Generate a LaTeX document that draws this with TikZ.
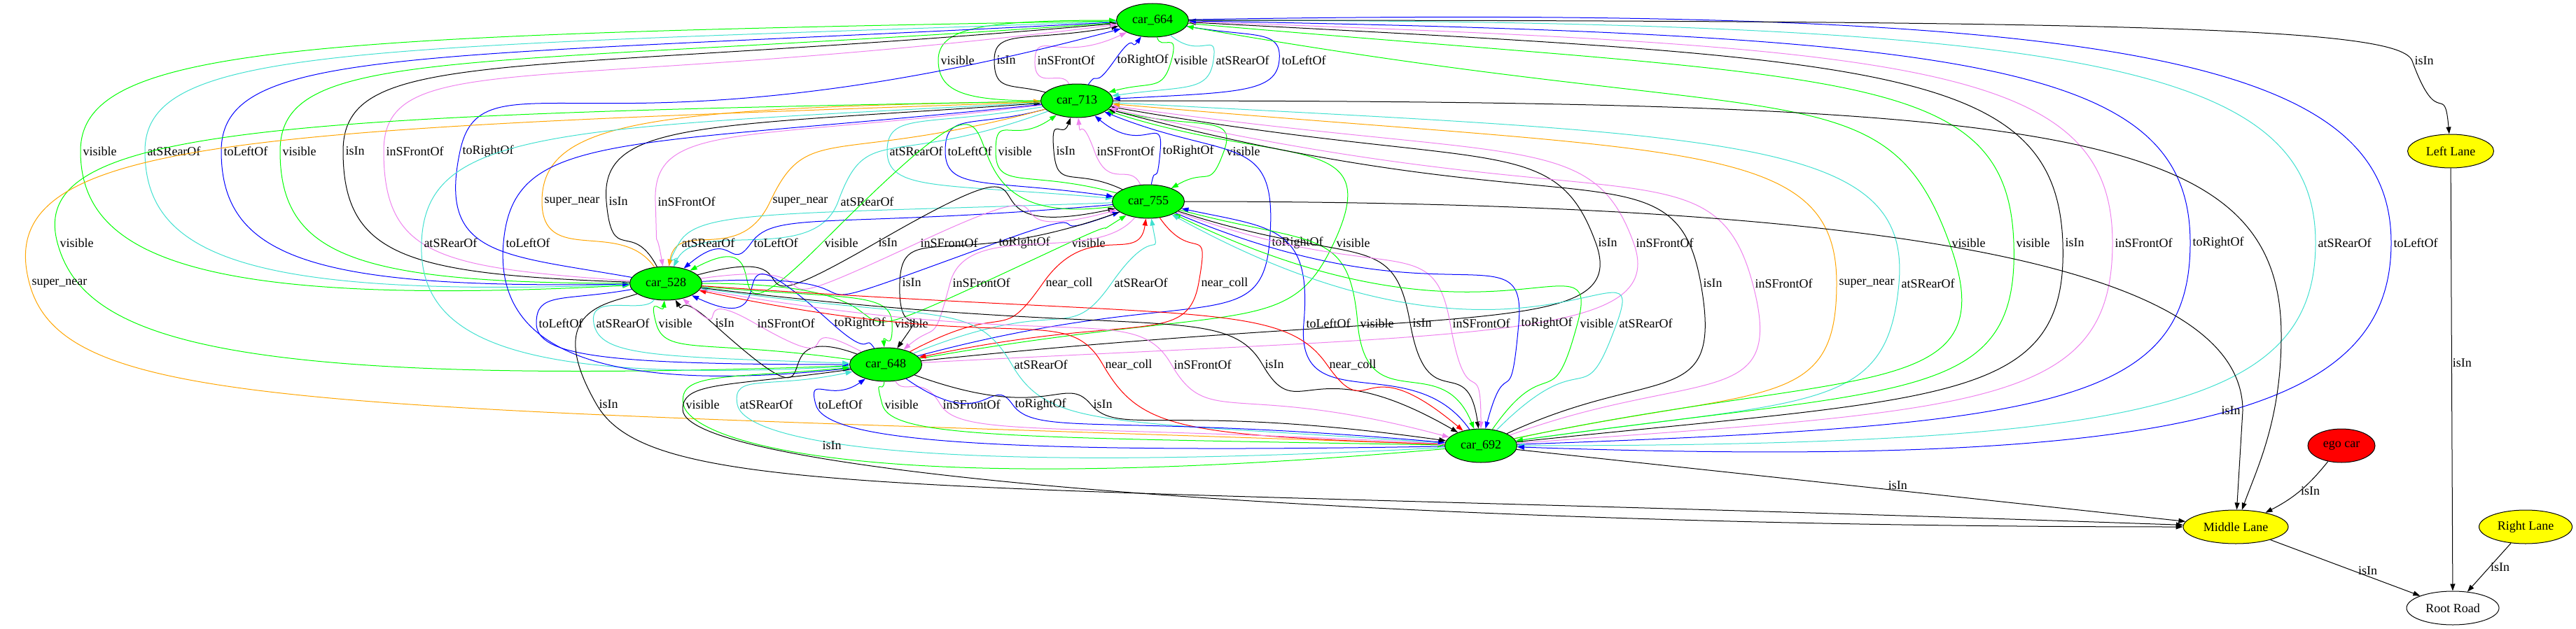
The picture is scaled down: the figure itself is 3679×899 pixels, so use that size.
\documentclass[tikz,border=0pt]{standalone}
\usepackage{fontspec}
\setmainfont{Liberation Serif}
\usetikzlibrary{arrows.meta,shapes.geometric}

\definecolor{vgreen}{HTML}{00FF00}
\definecolor{vcyan}{HTML}{40E0D0}
\definecolor{vviolet}{HTML}{EE82EE}
\definecolor{vorange}{HTML}{FFA500}
\definecolor{vyellow}{HTML}{FFFF00}
\definecolor{vred}{HTML}{FF0000}

\newcommand{\lblfont}{\fontsize{18}{20}\selectfont}
% control distance at one end of a curve piece (angle, dx, dy)
\newcommand{\cdist}[4]{%
  \pgfmathsetmacro{\cdc}{abs(cos(#2))}%
  \pgfmathsetmacro{\cds}{abs(sin(#2))}%
  \pgfmathsetmacro{#1}{max(15,0.8*((\cds>\cdc)*abs(#4)/max(\cds,0.5)+(1-(\cds>\cdc))*abs(#3)/max(\cdc,0.5)))}}

\begin{document}
\begin{tikzpicture}[
  x=1pt,y=1pt,font=\lblfont,line width=1pt,
  >={Triangle[length=10pt,width=7pt]},
  car/.style={ellipse, draw=black, fill=vgreen, minimum width=103pt, minimum height=48pt, inner sep=0pt},
  lane/.style={ellipse, draw=black, fill=vyellow, minimum height=48pt, inner sep=0pt},
  lbl/.style={inner sep=1pt},
  vis/.style={draw=vgreen},
  atrear/.style={draw=vcyan},
  toleft/.style={draw=blue},
  toright/.style={draw=blue},
  isin/.style={draw=black},
  infront/.style={draw=vviolet},
  supnear/.style={draw=vorange},
  nearcoll/.style={draw=vred},
]
\useasboundingbox (0,0) rectangle (3679,-899);

% --- cars ---
\node[car] (c664) at (1646,-29) {car\_664};
\node[car] (c713) at (1538,-144) {car\_713};
\node[car] (c755) at (1640,-288) {car\_755};
\node[car] (c528) at (951,-405) {car\_528};
\node[car] (c648) at (1265,-521) {car\_648};
\node[car] (c692) at (2115,-637) {car\_692};

% --- lanes and road ---
\node[lane, minimum width=123pt] (lleft) at (3500,-216) {Left Lane};
\node[lane, minimum width=150pt] (mid) at (3193,-753) {Middle Lane};
\node[lane, minimum width=133pt] (rlane) at (3607,-753) {Right Lane};
\node[car, fill=vred, minimum width=96pt] (ego) at (3344,-637) {ego car};
\node[ellipse, draw=black, minimum width=132pt, minimum height=48pt, inner sep=0pt] (root) at (3503,-869) {Root Road};

% --- relations: upper node, out angle, waypoint, tangent, lower node, in angle ---
\foreach \sa/\ao/\wx/\wy/\tg/\sb/\bi/\sty/\tip/\lab in {
  c664/180/1340/-86/270/c713/180/vis/<-/visible,
  c664/190/1420/-86/270/c713/165/isin/<-/isIn,
  c664/205/1478/-86/268/c713/115/infront/<-/inSFrontOf,
  c664/235/1592/-86/235/c713/55/toright/<-/toRightOf,
  c664/285/1673/-86/255/c713/15/vis/->/visible,
  c664/320/1733/-86/262/c713/8/atrear/->/atSRearOf,
  c664/350/1827/-86/265/c713/3/toleft/->/toLeftOf,
  c713/190/1267/-216/270/c755/175/atrear/->/atSRearOf,
  c713/195/1350/-216/270/c755/172/toleft/->/toLeftOf,
  c713/215/1422/-216/270/c755/165/vis/<-/visible,
  c713/250/1505/-216/275/c755/155/isin/<-/isIn,
  c713/275/1563/-216/290/c755/115/infront/<-/inSFrontOf,
  c713/320/1657/-216/265/c755/80/toright/<-/toRightOf,
  c713/345/1748/-216/250/c755/30/vis/->/visible,
  c664/181/115/-216/270/c528/183/vis/->/visible,
  c664/182/207/-216/270/c528/182/atrear/->/atSRearOf,
  c664/183/316/-216/270/c528/181/toleft/->/toLeftOf,
  c664/184/400/-216/270/c528/180/vis/<-/visible,
  c664/185/490/-216/270/c528/178/isin/<-/isIn,
  c664/187/548/-216/270/c528/176/infront/<-/inSFrontOf,
  c664/195/657/-216/258/c528/170/toright/<-/toRightOf,
  c713/181/774/-288/270/c528/125/supnear/<-/super\_near,
  c713/184/866/-288/275/c528/118/isin/<-/isIn,
  c713/187/936/-288/272/c528/100/infront/->/inSFrontOf,
  c713/195/1100/-288/245/c528/80/supnear/->/super\_near,
  c713/200/1197/-288/250/c528/65/atrear/->/atSRearOf,
  c713/181/82/-347/285/c648/182/vis/->/visible,
  c713/183/602/-347/268/c648/183/atrear/->/atSRearOf,
  c713/186/719/-347/265/c648/186/toleft/->/toLeftOf,
  c713/338/1813/-347/265/c648/15/toright/<-/toRightOf,
  c713/342/1905/-347/245/c648/10/vis/<-/visible,
  c713/350/2279/-347/290/c648/6/isin/<-/isIn,
  c713/352/2333/-347/290/c648/3/infront/<-/inSFrontOf,
  c713/182/42/-405/285/c692/178/supnear/->/super\_near,
  c713/345/2429/-405/280/c692/25/isin/<-/isIn,
  c713/347/2503/-405/285/c692/20/infront/<-/inSFrontOf,
  c713/355/2623/-405/270/c692/12/supnear/<-/super\_near,
  c713/357/2712/-405/265/c692/8/atrear/->/atSRearOf,
  c664/350/2784/-347/290/c692/12/vis/<-/visible,
  c664/355/2876/-347/272/c692/8/vis/->/visible,
  c664/357/2946/-347/272/c692/6/isin/<-/isIn,
  c664/358/3017/-347/270/c692/4/infront/<-/inSFrontOf,
  c664/359/3128/-347/270/c692/2/toright/<-/toRightOf,
  c664/0/3307/-347/270/c692/0/atrear/->/atSRearOf,
  c664/1/3415/-347/270/c692/358/toleft/->/toLeftOf,
  c755/182/970/-347/240/c528/65/atrear/->/atSRearOf,
  c755/185/1073/-347/235/c528/40/toleft/->/toLeftOf,
  c755/188/1174/-347/225/c528/28/vis/->/visible,
  c755/192/1251/-347/210/c528/15/isin/<-/isIn,
  c755/195/1311/-347/205/c528/8/infront/<-/inSFrontOf,
  c755/200/1423/-347/200/c528/3/toright/<-/toRightOf,
  c755/212/1527/-347/205/c528/0/vis/<-/visible,
  c755/200/1285/-404/268/c648/55/isin/->/isIn,
  c755/230/1357/-404/255/c648/40/infront/->/inSFrontOf,
  c755/262/1490/-404/235/c648/28/nearcoll/<-/near\_coll,
  c755/280/1588/-404/235/c648/22/atrear/<-/atSRearOf,
  c755/305/1712/-404/260/c648/12/nearcoll/->/near\_coll,
  c755/348/1862/-462/265/c692/125/toleft/<-/toLeftOf,
  c755/345/1939/-462/275/c692/112/vis/->/visible,
  c755/342/2014/-462/280/c692/98/isin/->/isIn,
  c755/340/2071/-462/280/c692/90/infront/->/inSFrontOf,
  c755/337/2169/-462/265/c692/75/toright/->/toRightOf,
  c755/334/2253/-462/255/c692/55/vis/<-/visible,
  c755/331/2309/-462/250/c692/45/atrear/<-/atSRearOf,
  c528/190/766/-462/270/c648/180/toleft/->/toLeftOf,
  c528/235/848/-462/280/c648/178/atrear/->/atSRearOf,
  c528/265/937/-462/285/c648/172/vis/<-/visible,
  c528/300/1018/-462/318/c648/160/isin/<-/isIn,
  c528/318/1078/-462/330/c648/152/infront/<-/inSFrontOf,
  c528/335/1188/-462/318/c648/125/toright/<-/toRightOf,
  c528/355/1274/-462/272/c648/95/vis/->/visible,
  c528/352/1445/-521/300/c692/176/atrear/<-/atSRearOf,
  c528/348/1575/-521/300/c692/178/nearcoll/<-/near\_coll,
  c528/350/1673/-521/300/c692/165/infront/->/inSFrontOf,
  c528/353/1803/-521/300/c692/150/isin/->/isIn,
  c528/356/1895/-521/305/c692/140/nearcoll/->/near\_coll,
  c648/185/976/-578/280/c692/185/vis/<-/visible,
  c648/192/1053/-578/280/c692/183/atrear/<-/atSRearOf,
  c648/215/1165/-578/285/c692/181/toleft/<-/toLeftOf,
  c648/265/1260/-578/285/c692/179/vis/->/visible,
  c648/300/1343/-578/300/c692/177/infront/->/inSFrontOf,
  c648/325/1446/-578/305/c692/175/toright/->/toRightOf,
  c648/340/1558/-578/310/c692/172/isin/->/isIn,
  c664/0/3445/-87/290/lleft/95/isin/->/isIn,
  c528/200/852/-578/300/mid/178/isin/->/isIn} {
  \path (\sa); \pgfgetlastxy{\ax}{\ay}
  \path (\sb); \pgfgetlastxy{\bx}{\by}
  \cdist{\ka}{\ao}{(\wx)-(\ax)}{(\wy)-(\ay)}
  \cdist{\kb}{\tg}{(\wx)-(\ax)}{(\wy)-(\ay)}
  \cdist{\kc}{\tg}{(\bx)-(\wx)}{(\by)-(\wy)}
  \cdist{\kd}{\bi}{(\bx)-(\wx)}{(\by)-(\wy)}
  \pgfmathsetmacro{\tb}{\tg+180}
  \draw[\sty,\tip] (\sa) .. controls +(\ao:\ka pt) and +(\tb:\kb pt) .. (\wx,\wy)
    node[lbl, right, xshift=2pt] {\lab}
    .. controls +(\tg:\kc pt) and +(\bi:\kd pt) .. (\sb);
}

% --- lane membership ---
\draw[isin,->] (c755) .. controls +(0:1100) and +(90:200) .. (3203,-587)
  node[lbl, left, xshift=-2pt] {isIn} -- (mid);
\draw[isin,->] (c713) .. controls +(0:1400) and +(90:300) .. (3258,-480)
  .. controls +(270:120) and +(70:90) .. (mid);
\draw[isin,->] (c648) .. controls +(188:230) and +(90:40) .. (975,-585)
  .. controls +(270:95) and +(180:1200) .. (mid);
\node[lbl] (l648) at (1188,-637) {isIn};
\draw[isin,->] (c692) -- node[lbl, pos=0.57, above] {isIn} (mid);
\draw[isin,->] (ego) to[bend left=12] node[lbl, right, pos=0.5] {isIn} (mid);
\draw[isin,->] (lleft) -- node[lbl, right, pos=0.46] {isIn} (root);
\draw[isin,->] (mid) -- node[lbl, pos=0.65, above] {isIn} (root);
\draw[isin,->] (rlane) -- node[lbl, right, pos=0.49] {isIn} (root);

\end{tikzpicture}
\end{document}
